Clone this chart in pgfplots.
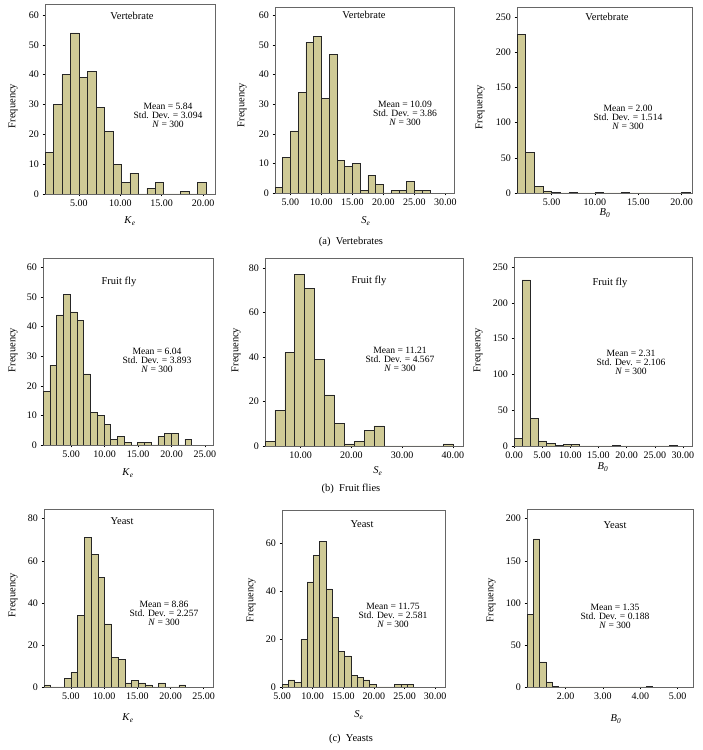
\documentclass[border=0pt]{standalone}
\usepackage{fontspec}
\setmainfont{Liberation Serif}
\usepackage{pgfplots}
\pgfplotsset{compat=1.18}

\definecolor{barfill}{RGB}{207,202,150}
\newcommand\fs{\fontsize{9.6}{9}\selectfont}
\newcommand\fl{\fontsize{10.5}{12}\selectfont}
\newcommand\ft{\fontsize{10}{12}\selectfont}
\newcommand\var[2]{\textit{#1}\textsubscript{\textit{#2}}}

\pgfplotsset{
  hist/.style={
    scale only axis, anchor=south west,
    ymin=0,
    axis line style={black!60, line width=0.6pt},
    tick align=outside, major tick length=2.5pt,
    tick style={black, line width=0.5pt},
    tick pos=left,
    tick label style={font=\ft},
    /pgf/number format/assume math mode=true,
    xticklabel style={/pgf/number format/fixed, /pgf/number format/fixed zerofill, /pgf/number format/precision=2},
  },
  bars/.style={ybar interval, fill=barfill, draw=black!85, line width=0.5pt},
}

\begin{document}
\begin{tikzpicture}
\useasboundingbox (0,0) rectangle (702pt,750pt);
\tikzset{every node/.style={font=\fl}}

% ---------- (a) Vertebrates ----------
\begin{axis}[hist, at={(45pt,556pt)}, width=170pt, height=190pt,
  xmin=0.9, xmax=21.45, ymax=63.7, xtick={5,10,15,20}, ytick={0,10,...,60}]
\addplot[bars] coordinates {
  (0.9,14) (1.925,30) (2.95,40) (3.975,54) (5.0,39) (6.025,41) (7.05,29)
  (8.075,21) (9.1,10) (10.125,4) (11.15,7) (12.175,0) (13.2,2) (14.225,4)
  (15.25,0) (16.275,0) (17.3,1) (18.325,0) (19.35,4) (20.375,0)};
\end{axis}

\begin{axis}[hist, at={(275pt,557pt)}, width=179pt, height=186pt,
  xmin=2.5, xmax=31.4, ymax=62.9, xtick={5,10,...,30}, ytick={0,10,...,60}]
\addplot[bars] coordinates {
  (2.5,2) (3.75,12) (5,21) (6.25,34) (7.5,51) (8.75,53) (10,32) (11.25,47)
  (12.5,11) (13.75,9) (15,10) (16.25,1) (17.5,6) (18.75,3) (20,0) (21.25,1)
  (22.5,1) (23.75,4) (25,1) (26.25,1) (27.5,0)};
\end{axis}

\begin{axis}[hist, at={(517pt,557pt)}, width=175pt, height=186pt,
  xmin=1.0, xmax=21.2, ymax=264, xtick={5,10,15,20}, ytick={0,50,...,250}]
\addplot[bars] coordinates {
  (1,225) (2,58) (3,9) (4,3) (5,1) (6,0) (7,1) (8,0) (9,0) (10,1) (11,0)
  (12,0) (13,1) (14,0) (15,0) (16,0) (17,0) (18,0) (19,0) (20,1) (21,0)};
\end{axis}

% ---------- (b) Fruit flies ----------
\begin{axis}[hist, at={(43pt,305pt)}, width=170pt, height=187pt,
  xmin=0.8, xmax=26.2, ymax=63.2, xtick={5,10,...,25}, ytick={0,10,...,60}]
\addplot[bars] coordinates {
  (0.8,18) (1.81,27) (2.82,44) (3.83,51) (4.84,45) (5.85,42) (6.86,24)
  (7.87,11) (8.88,10) (9.89,7) (10.9,2) (11.91,3) (12.92,1) (13.93,0)
  (14.94,1) (15.95,1) (16.96,0) (17.97,3) (18.98,4) (19.99,4) (21.0,0)
  (22.01,2) (23.02,0)};
\end{axis}

\begin{axis}[hist, at={(265pt,304pt)}, width=198pt, height=188pt,
  xmin=3.0, xmax=42, ymax=84.5, xtick={10,20,30,40}, ytick={0,20,...,80}]
\addplot[bars] coordinates {
  (3.0,2) (4.95,16) (6.9,42) (8.85,77) (10.8,71) (12.75,39) (14.7,23)
  (16.65,10) (18.6,1) (20.55,2) (22.5,7) (24.45,9) (26.4,0) (28.35,0)
  (30.3,0) (32.25,0) (34.2,0) (36.15,0) (38.1,1) (40.05,0)};
\end{axis}

\begin{axis}[hist, at={(514pt,304pt)}, width=178pt, height=189pt,
  xmin=0, xmax=31.6, ymax=264, xtick={0,5,...,30}, ytick={0,50,...,250}]
\addplot[bars] coordinates {
  (0,11) (1.45,232) (2.9,39) (4.35,7) (5.8,4) (7.25,1) (8.7,2) (10.15,2)
  (11.6,0) (13.05,0) (14.5,0) (15.95,0) (17.4,1) (18.85,0) (20.3,0)
  (21.75,0) (23.2,0) (24.65,0) (26.1,0) (27.55,1) (29.0,0)};
\end{axis}

% ---------- (c) Yeasts ----------
\begin{axis}[hist, at={(44pt,63pt)}, width=169pt, height=178pt,
  xmin=0.95, xmax=26.4, ymax=84.6, xtick={5,10,...,25}, ytick={0,20,...,80}]
\addplot[bars] coordinates {
  (0.95,1) (1.965,0) (2.98,0) (3.995,4) (5.01,7) (6.025,34) (7.04,71)
  (8.055,63) (9.07,52) (10.085,30) (11.1,14) (12.115,13) (13.13,2)
  (14.145,3) (15.16,2) (16.175,1) (17.19,0) (18.205,2) (19.22,0)
  (20.235,0) (21.25,1) (22.265,0)};
\end{axis}

\begin{axis}[hist, at={(282pt,63pt)}, width=163pt, height=177pt,
  xmin=5, xmax=31.6, ymax=74, xtick={5,10,...,30}, ytick={0,20,40,60}]
\addplot[bars] coordinates {
  (5.0,1) (6.02,3) (7.04,2) (8.06,20) (9.08,44) (10.1,55) (11.12,61)
  (12.14,41) (13.16,29) (14.18,15) (15.2,13) (16.22,5) (17.24,4) (18.26,3)
  (19.28,1) (20.3,0) (21.32,0) (22.34,0) (23.36,1) (24.38,1) (25.4,1)
  (26.42,0)};
\end{axis}

\begin{axis}[hist, at={(527pt,63pt)}, width=166pt, height=178pt,
  xmin=0.97, xmax=5.41, ymax=211.5, xtick={2,3,4,5}, ytick={0,50,...,200}]
\addplot[bars] coordinates {
  (0.97,86) (1.138,176) (1.306,30) (1.474,6) (1.642,1) (1.81,0)
  (4.162,1) (4.33,0)};
\end{axis}

% ---------- titles ----------
\node at (132pt,734pt) {Vertebrate};
\node at (364pt,735pt) {Vertebrate};
\node at (607pt,733pt) {Vertebrate};
\node at (119pt,468pt) {Fruit fly};
\node at (369pt,469pt) {Fruit fly};
\node at (610pt,467pt) {Fruit fly};
\node at (122pt,229pt) {Yeast};
\node at (362pt,226pt) {Yeast};
\node at (615pt,225pt) {Yeast};

% ---------- statistics ----------
\tikzset{stat/.style={align=center, inner sep=0pt, font=\fs}}
\node[stat] at (168pt,635pt) {Mean = 5.84\\Std. Dev. = 3.094\\\textit{N} = 300};
\node[stat] at (405pt,637pt) {Mean = 10.09\\Std. Dev. = 3.86\\\textit{N} = 300};
\node[stat] at (628pt,633pt) {Mean = 2.00\\Std. Dev. = 1.514\\\textit{N} = 300};
\node[stat] at (157pt,390pt) {Mean = 6.04\\Std. Dev. = 3.893\\\textit{N} = 300};
\node[stat] at (400pt,391pt) {Mean = 11.21\\Std. Dev. = 4.567\\\textit{N} = 300};
\node[stat] at (631pt,388pt) {Mean = 2.31\\Std. Dev. = 2.106\\\textit{N} = 300};
\node[stat] at (164pt,137pt) {Mean = 8.86\\Std. Dev. = 2.257\\\textit{N} = 300};
\node[stat] at (393pt,135pt) {Mean = 11.75\\Std. Dev. = 2.581\\\textit{N} = 300};
\node[stat] at (615pt,134pt) {Mean = 1.35\\Std. Dev. = 0.188\\\textit{N} = 300};

% ---------- y labels ----------
\foreach \x/\y in {13/644, 242/645, 480/643, 13/400, 236/400, 478/400, 13/155, 251/150, 491/150}
  \node[rotate=90] at (\x pt,\y pt) {Frequency};

% ---------- x labels ----------
\node at (130pt,529pt) {\var{K}{e}};
\node at (366pt,529pt) {\var{S}{e}};
\node at (605pt,537pt) {\var{B}{0}};
\node at (128pt,277pt) {\var{K}{e}};
\node at (378pt,279pt) {\var{S}{e}};
\node at (603pt,283pt) {\var{B}{0}};
\node at (128pt,32pt) {\var{K}{e}};
\node at (359pt,35pt) {\var{S}{e}};
\node at (616pt,31pt) {\var{B}{0}};

% ---------- captions ----------
\node at (351pt,508pt) {(a)\hspace{0.5em}Vertebrates};
\node at (351pt,261pt) {(b)\hspace{0.5em}Fruit flies};
\node at (351pt,11pt) {(c)\hspace{0.5em}Yeasts};
\end{tikzpicture}
\end{document}
